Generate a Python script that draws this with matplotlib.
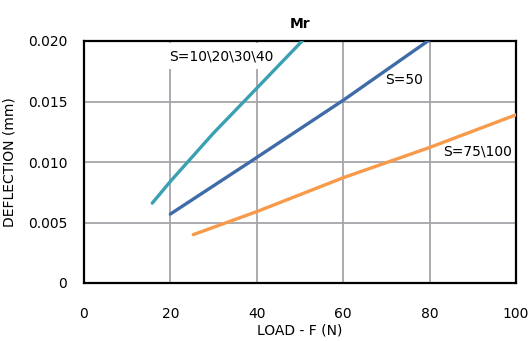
import matplotlib.pyplot as plt

# data
load_s10 = [15.8, 20, 30, 40, 50.5]
defl_s10 = [0.0066, 0.0084, 0.0124, 0.0161, 0.0200]

load_s50 = [20, 38.4, 60, 80]
defl_s50 = [0.0057, 0.0100, 0.0151, 0.0201]

load_s75 = [25.3, 40, 60, 80, 100]
defl_s75 = [0.0040, 0.0059, 0.0087, 0.0112, 0.0139]

xticks = [0, 20, 40, 60, 80, 100]
yticks = [0, 0.005, 0.010, 0.015, 0.020]
ytick_labels = ['0', '0.005', '0.010', '0.015', '0.020']

plt.rcParams['font.family'] = ['DejaVu Sans']

fig = plt.figure(figsize=(5.3, 3.41), dpi=100)
ax = fig.add_axes([84 / 530, 1 - 283 / 341, 432 / 530, 242 / 341])

ax.plot(load_s10, defl_s10, color='#3aa0b2', lw=2.4, solid_capstyle='round', zorder=3)
ax.plot(load_s50, defl_s50, color='#3f6ca8', lw=2.4, solid_capstyle='round', zorder=3)
ax.plot(load_s75, defl_s75, color='#f79a4a', lw=2.4, solid_capstyle='round', zorder=3)

# the top label hides the grid behind it, the other two sit in open cells
box = dict(facecolor='white', edgecolor='none', pad=4)
ax.text(31.7, 0.01876, 'S=10\\20\\30\\40', ha='center', va='center', fontsize=10, bbox=box, zorder=2)
ax.text(74.0, 0.01678, 'S=50', ha='center', va='center', fontsize=10, zorder=2)
ax.text(91.0, 0.01083, 'S=75\\100', ha='center', va='center', fontsize=10, zorder=2)

ax.set_xlim(0, 100)
ax.set_ylim(0, 0.020)
ax.set_xticks(xticks)
ax.set_yticks(yticks)
ax.set_yticklabels(ytick_labels)
ax.tick_params(length=0, labelsize=10)
ax.tick_params(axis='x', pad=17)
ax.tick_params(axis='y', pad=12)
ax.grid(True, color='#a6a6aa', lw=1.3, zorder=1)
ax.set_axisbelow(True)
for sp in ax.spines.values():
    sp.set_linewidth(1.6)
    sp.set_color('black')

ax.set_title('Mr', fontsize=10, fontweight='bold', pad=9)
ax.set_xlabel('LOAD - F (N)', fontsize=10, labelpad=2)
ax.set_ylabel('DEFLECTION (mm)', fontsize=10, labelpad=8)

fig.savefig('out.png', dpi=100)
